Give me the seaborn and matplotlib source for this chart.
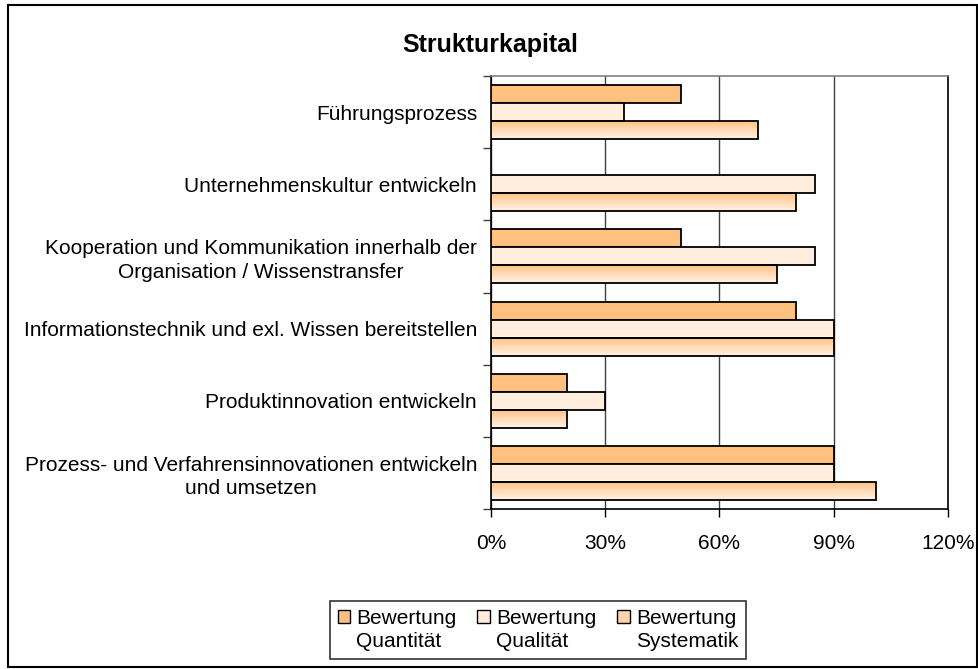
import numpy as np
import pandas as pd
import matplotlib
matplotlib.use("Agg")
import matplotlib.pyplot as plt
from matplotlib.patches import Patch, Rectangle
from matplotlib.legend_handler import HandlerPatch
from matplotlib.colors import to_rgb
import seaborn as sns

# data
categories = [
	"Führungsprozess",
	"Unternehmenskultur entwickeln",
	"Kooperation und Kommunikation innerhalb der\nOrganisation / Wissenstransfer",
	"Informationstechnik und exl. Wissen bereitstellen",
	"Produktinnovation entwickeln",
	"Prozess- und Verfahrensinnovationen entwickeln\nund umsetzen",
]
series = ["Bewertung\nQuantität", "Bewertung\nQualität", "Bewertung\nSystematik"]
quantitaet = [50, np.nan, 50, 80, 20, 90]
qualitaet = [35, 85, 85, 90, 30, 90]
systematik = [70, 80, 75, 90, 20, 101]
xticks = [0, 30, 60, 90, 120]

ORANGE = "#FFC080"
LIGHT = "#FFEEDD"
GRAD_BOTTOM = "#FFF3E8"

rows = []
for s, vals in zip(series, [quantitaet, qualitaet, systematik]):
	for c, v in zip(categories, vals):
		rows.append([c, s, v])
df = pd.DataFrame(rows, columns=["kategorie", "serie", "wert"])

sns.set_style("white")
plt.rcParams["font.family"] = ["Liberation Sans", "DejaVu Sans"]
plt.rcParams["text.color"] = "black"
plt.rcParams["xtick.color"] = "black"
plt.rcParams["ytick.color"] = "black"

fig = plt.figure(figsize=(9.79, 6.69), dpi=100)
ax = fig.add_axes([491/979, 1-509/669, (948-491)/979, (509-76)/669])

palette = {series[0]: ORANGE, series[1]: LIGHT, series[2]: "#FFD9B3"}
sns.barplot(data=df, y="kategorie", x="wert", hue="serie", order=categories,
	hue_order=series, palette=palette, orient="h", width=0.75, saturation=1,
	edgecolor="black", linewidth=1.3, errorbar=None, legend=False, ax=ax, zorder=3)

# vertical gradient on the Systematik bars
grad = np.linspace(0, 1, 64)[:, None, None]
c0 = np.array(to_rgb(ORANGE)); c1 = np.array(to_rgb(GRAD_BOTTOM))
img = np.clip(c0 * (1 - grad) + c1 * grad, 0, 1)
for p in ax.containers[2]:
	x0, y0 = p.get_x(), p.get_y()
	w, h = p.get_width(), p.get_height()
	if np.isnan(w):
		continue
	p.set_facecolor("none")
	im = ax.imshow(img, extent=(x0, x0 + w, y0 + h, y0), origin="upper",
		aspect="auto", zorder=2.9, interpolation="bilinear")
	im.set_clip_path(p)

ax.set_xlim(0, 120)
ax.set_ylim(len(categories) - 0.5, -0.5)
ax.set_aspect("auto")

ax.set_xticks(xticks)
ax.set_xticklabels([f"{t}%" for t in xticks], fontsize=15)
ax.set_yticks(range(len(categories)))
ax.set_yticklabels(categories, fontsize=15, multialignment="center", linespacing=1.3)
ax.set_yticks(np.arange(-0.5, len(categories)), minor=True)
ax.tick_params(axis="y", which="major", length=0, pad=10)
ax.tick_params(axis="y", which="minor", left=True, length=6, width=1, color="#404040")
ax.tick_params(axis="x", which="major", bottom=True, length=6, width=1, pad=12)
ax.set_xlabel("")
ax.set_ylabel("")

ax.xaxis.grid(True, color="#404040", linewidth=1)
ax.set_axisbelow(True)
for side in ["left", "bottom", "right"]:
	ax.spines[side].set_color("black")
	ax.spines[side].set_linewidth(1.2)
ax.spines["top"].set_color("#808080")
ax.spines["top"].set_linewidth(1.2)

fig.text(490/979, 1-45/669, "Strukturkapital", ha="center", va="center",
	fontsize=18, fontweight="bold")

# legend squares sit next to the first text line
def top_square(legend, orig_handle, xdescent, ydescent, width, height, fontsize):
	return Rectangle((-xdescent, -ydescent + 0.65 * fontsize), width, height)

handles = [Patch(facecolor=ORANGE, edgecolor="black", linewidth=1),
	Patch(facecolor=LIGHT, edgecolor="black", linewidth=1),
	Patch(facecolor="#FFD4A8", edgecolor="black", linewidth=1)]
leg = fig.legend(handles, series, loc="center", bbox_to_anchor=(538/979, 1-630/669),
	ncol=3, fontsize=15, frameon=True, fancybox=False, handlelength=0.6,
	handleheight=0.6, handletextpad=0.3, columnspacing=1.0, borderpad=0.35,
	handler_map={Patch: HandlerPatch(patch_func=top_square)})
for t in leg.get_texts():
	t.set_linespacing(1.3)
leg.get_frame().set_edgecolor("black")
leg.get_frame().set_linewidth(1.2)

fig.patches.append(Rectangle((8/979, 2/669), 969/979, 662/669, transform=fig.transFigure,
	fill=False, edgecolor="black", linewidth=1.5))

fig.savefig("out.png", dpi=100)
